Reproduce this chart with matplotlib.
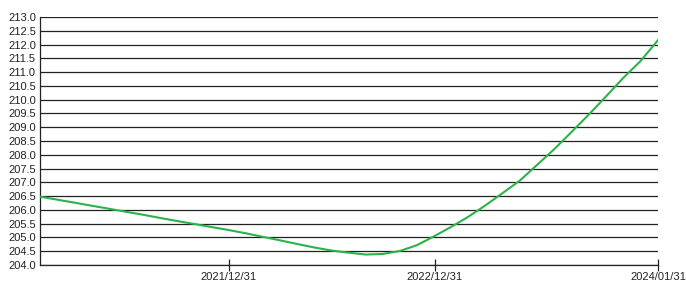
import matplotlib
matplotlib.use("Agg")
import matplotlib.pyplot as plt
import matplotlib.dates as mdates
import pandas as pd
import numpy as np

dates = pd.date_range("2021-01-31", "2024-01-31", freq="ME")
values = [206.48, 206.38, 206.27, 206.16, 206.05, 205.94, 205.83, 205.71,
          205.60, 205.49, 205.38, 205.27, 205.15, 205.03, 204.90, 204.77,
          204.64, 204.53, 204.45, 204.38, 204.40, 204.51, 204.72, 205.05,
          205.40, 205.74, 206.16, 206.60, 207.06, 207.62, 208.20, 208.83,
          209.45, 210.12, 210.78, 211.40, 212.16]
xtick_labels = ["2021/12/31", "2022/12/31", "2024/01/31"]
xtick_dates = pd.to_datetime(["2021-12-31", "2022-12-31", "2024-01-31"])
yticks = np.arange(204.0, 213.01, 0.5)

plt.rcParams['font.family'] = ['Liberation Sans', 'DejaVu Sans']

fig = plt.figure(figsize=(6.86, 2.82), dpi=100)
ax = fig.add_axes([40/686, 17/282, 618/686, 248/282])

for y in yticks:
    ax.axhline(y, color='#222222', lw=0.9, zorder=1)

ax.plot(dates, values, color='#2cb24a', lw=1.5, zorder=3)

ax.set_xlim(dates[0], dates[-1])
ax.set_ylim(204.0, 213.0)
ax.set_yticks(yticks)
ax.set_yticklabels([f"{v:.1f}" for v in yticks])
ax.set_xticks(xtick_dates)
ax.set_xticklabels(xtick_labels)

for s in ['top', 'right']:
    ax.spines[s].set_visible(False)
for s in ['left', 'bottom']:
    ax.spines[s].set_color('#222222')
    ax.spines[s].set_linewidth(0.9)

ax.tick_params(axis='y', length=0, pad=3, labelsize=8, colors='#222222')
ax.tick_params(axis='x', direction='inout', length=8, width=0.9, pad=1,
               labelsize=8, colors='#222222')

fig.savefig("out.png", dpi=100)
